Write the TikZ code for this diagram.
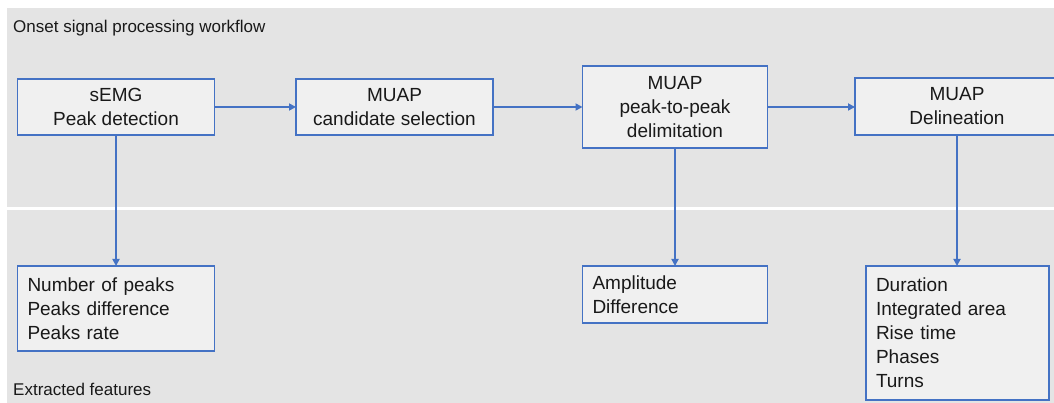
\documentclass[tikz,border=0pt]{standalone}
\usepackage{fontspec}
\setmainfont{Liberation Sans}
\usetikzlibrary{arrows.meta}
\definecolor{bgrey}{HTML}{E4E4E4}
\definecolor{boxfill}{HTML}{F0F0F0}
\definecolor{bblue}{HTML}{4472C4}
\tikzset{
  stepbox/.style={draw=bblue, line width=1.6pt, fill=boxfill, inner sep=0pt, outer sep=0pt,
    font=\fontsize{19}{24}\selectfont, align=center, text=black!90},
  listbox/.style={stepbox, align=left, inner xsep=10pt},
  conn/.style={draw=bblue, line width=1.7pt, -{Triangle[length=7pt,width=7pt]}},
  paneltitle/.style={font=\fontsize{17}{20}\selectfont, anchor=base west, inner sep=0pt, text=black!90}
}
\begin{document}
\begin{tikzpicture}[x=1pt,y=-1pt]
\useasboundingbox (0,0) rectangle (1054,403);
\clip (0,0) rectangle (1054,403);
% panels
\fill[bgrey] (7,8) rectangle (1054,403);
\fill[white] (7,207) rectangle (1054,210);
\node[paneltitle] (t1) at (13,33) {Onset signal processing workflow};
\node[paneltitle] (t2) at (13,395) {Extracted features};
% top row
\node[stepbox, minimum width=197pt, minimum height=56pt] (semg) at (116,107) {sEMG\\Peak detection};
\node[stepbox, minimum width=197pt, minimum height=56pt] (cand) at (394.5,107) {MUAP\\candidate selection};
\node[stepbox, minimum width=185pt, minimum height=82pt] (p2p) at (675,107) {MUAP\\peak-to-peak\\delimitation};
\node[stepbox, minimum width=204pt, minimum height=57pt] (deli) at (957,106.5) {MUAP\\Delineation};
% bottom row
\node[listbox, text width=177pt, minimum height=85pt] (feat1) at (116,308.5) {Number of peaks\\Peaks difference\\Peaks rate};
\node[listbox, text width=165pt, minimum height=57pt] (feat2) at (675,294.5) {Amplitude\\Difference};
\node[listbox, text width=163pt, minimum height=134pt] (feat3) at (957.5,333) {Duration\\Integrated area\\Rise time\\Phases\\Turns};
% connectors
\draw[conn] (semg) -- (cand);
\draw[conn] (cand) -- (p2p);
\draw[conn] (p2p.east) -- (deli.west |- p2p.east);
\draw[conn] (semg.south) -- (feat1.north);
\draw[conn] (p2p.south) -- (feat2.north);
\draw[conn] (deli.south) -- (deli.south |- feat3.north);
\end{tikzpicture}
\end{document}
